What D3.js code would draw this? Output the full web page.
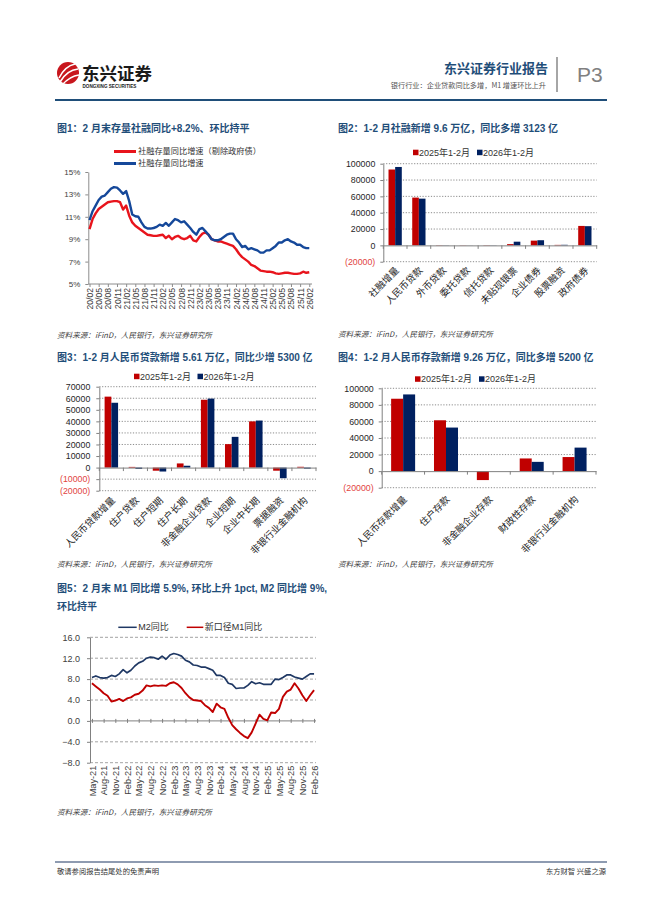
<!DOCTYPE html>
<html><head><meta charset="utf-8">
<script src="https://cdn.jsdelivr.net/npm/d3@7"></script>
<style>
body{margin:0;background:#fff;}
svg{display:block;}
</style></head><body>
<svg id="page" width="662" height="898"></svg>
<script>
// ================= DATA =================
// Chart 1: 社融存量同比 (2020/02 - 2026/02 monthly)
const c1XLabels = ["20/02","20/05","20/08","20/11","21/02","21/05","21/08","21/11","22/02","22/05","22/08","22/11","23/02","23/05","23/08","23/11","24/02","24/05","24/08","24/11","25/02","25/05","25/08","25/11","26/02"];
const c1YTicks = [5,7,9,11,13,15];
const c1Legend = ["社融存量同比增速（剔除政府债）","社融存量同比增速"];
const sfExGov = [9.9,10.8,11.3,11.7,11.9,12.1,12.3,12.35,12.4,12.4,12.3,11.65,12.0,11.1,10.5,10.2,10.0,9.8,9.6,9.4,9.35,9.3,9.3,9.35,9.4,9.1,9.3,9.0,9.2,9.3,9.1,9.0,9.1,9.3,8.9,8.8,9.2,9.5,9.6,9.4,9.0,8.9,8.8,8.8,8.7,8.6,8.5,8.4,8.1,7.7,7.4,7.2,7.0,6.7,6.6,6.4,6.2,6.15,6.1,6.1,6.05,5.95,5.9,5.95,6.0,6.0,5.95,5.9,5.9,5.95,6.1,6.0,6.05];
const sfTotal = [10.7,11.5,12.0,12.5,12.8,12.9,13.2,13.5,13.65,13.6,13.35,13.05,13.3,12.4,11.2,11.05,11.0,10.5,10.1,9.95,9.95,10.0,10.1,10.3,10.2,10.45,10.2,10.5,10.8,10.7,10.5,10.6,10.3,10.0,9.65,9.4,9.9,10.0,9.7,9.4,9.0,8.9,8.9,9.0,9.2,9.4,9.5,9.5,9.0,8.7,8.3,8.4,8.1,8.2,8.1,8.0,7.8,7.8,8.0,8.0,8.2,8.4,8.7,8.7,8.9,9.0,8.8,8.7,8.5,8.5,8.3,8.2,8.2];

// Bar legends
const barLegend = ["2025年1-2月","2026年1-2月"];

// Chart 2: 社融新增 (亿元)
const c2Cats = ["社融增量","人民币贷款","外币贷款","委托贷款","信托贷款","未贴现银票","企业债券","股票融资","政府债券"];
const c2Y2025 = [92877,58500,-300,200,300,1500,5800,600,23800];
const c2Y2026 = [96000,57200,200,-100,200,4500,6300,700,23500];
const c2Ticks = [-20000,0,20000,40000,60000,80000,100000];

// Chart 3: 人民币贷款新增 (亿元)
const c3Cats = ["人民币贷款增量","住户贷款","住户短期","住户长期","非金融企业贷款","企业短期","企业中长期","票据融资","非银行业金融机构"];
const c3Y2025 = [61400,600,-2700,3600,58700,20300,40000,-2700,700];
const c3Y2026 = [56100,-1100,-3400,1600,59700,26600,40700,-9200,-900];
const c3Ticks = [-20000,-10000,0,10000,20000,30000,40000,50000,60000,70000];

// Chart 4: 人民币存款新增 (亿元)
const c4Cats = ["人民币存款增量","住户存款","非金融企业存款","财政性存款","非银行业金融机构"];
const c4Y2025 = [87400,61400,-10800,15300,17000];
const c4Y2026 = [92600,52600,0,11200,28400];
const c4Ticks = [-20000,0,20000,40000,60000,80000,100000];

// Chart 5: M1 / M2 同比 (May-21 - Feb-26 monthly)
const c5XLabels = ["May-21","Aug-21","Nov-21","Feb-22","May-22","Aug-22","Nov-22","Feb-23","May-23","Aug-23","Nov-23","Feb-24","May-24","Aug-24","Nov-24","Feb-25","May-25","Aug-25","Nov-25","Feb-26"];
const c5YTicks = [-8,-4,0,4,8,12,16];
const c5Legend = ["M2同比","新口径M1同比"];
const m2 = [8.3,8.6,8.3,8.2,8.3,8.7,8.5,9.0,9.8,9.2,9.7,10.5,11.1,11.4,12.0,12.2,12.1,11.8,12.4,11.8,12.6,12.9,12.7,12.4,11.6,11.3,10.7,10.6,10.3,10.3,10.0,9.7,8.7,8.7,8.3,7.2,7.0,6.2,6.3,6.3,6.8,7.5,7.1,7.3,7.0,7.0,7.0,8.0,7.9,8.3,8.8,8.8,8.4,8.2,8.0,8.5,9.0,9.0];
const m1 = [7.2,6.6,6.0,5.3,4.8,3.7,3.9,4.2,3.8,4.3,4.5,5.0,5.2,5.8,6.8,6.6,6.8,6.7,6.8,6.7,7.2,7.4,7.0,6.3,5.3,4.5,4.0,3.9,3.8,3.0,2.5,1.7,3.3,2.6,2.3,0.6,-0.8,-1.6,-2.3,-2.9,-3.3,-2.2,-0.5,1.2,0.4,0.1,1.6,1.5,2.3,4.6,5.6,6.0,7.2,6.2,4.9,3.8,4.9,5.9];

// Texts
const titles = {
  c1: "图1：2 月末存量社融同比+8.2%、环比持平",
  c2: "图2：1-2 月社融新增 9.6 万亿，同比多增 3123 亿",
  c3: "图3：1-2 月人民币贷款新增 5.61 万亿，同比少增 5300 亿",
  c4: "图4：1-2 月人民币存款新增 9.26 万亿，同比多增 5200 亿",
  c5a: "图5：2 月末 M1 同比增 5.9%, 环比上升 1pct, M2 同比增 9%,",
  c5b: "环比持平"
};
const sourceText = "资料来源：iFinD，人民银行，东兴证券研究所";

// ================= STYLE =================
const FONT = '"Liberation Sans","Noto Sans CJK SC",Arial,sans-serif';
const CJK = '"Noto Sans CJK SC","Liberation Sans",sans-serif';
const TITLE_BLUE = "#1f4e79";
const RED = "#c00000", NAVY = "#002060", NEG = "#e2453f";

const svg = d3.select("#page");
svg.append("rect").attr("width",662).attr("height",898).attr("fill","#fff");

// ================= HEADER =================
const hdr = svg.append("g");
hdr.append("circle").attr("cx",68).attr("cy",73).attr("r",11).attr("fill","#c8161d");
["M59,78 Q65,66 75,64","M60,82 Q67,70 78,69","M62,85 Q70,76 79,75"].forEach(p=>{
  hdr.append("path").attr("d",p).attr("fill","none").attr("stroke","#fff").attr("stroke-width",1.6);
});
hdr.append("text").attr("x",82).attr("y",80).attr("font-family",CJK).attr("font-weight","bold")
  .attr("font-size",17.5).attr("fill","#1a1a1a").text("东兴证券");
hdr.append("text").attr("x",82.5).attr("y",88).attr("font-family",FONT).attr("font-weight","bold")
  .attr("font-size",4.6).attr("fill","#1a1a1a").text("DONGXING SECURITIES");
hdr.append("text").attr("x",548).attr("y",73).attr("text-anchor","end").attr("font-family",CJK)
  .attr("font-weight","bold").attr("font-size",13).attr("fill",TITLE_BLUE).text("东兴证券行业报告");
hdr.append("text").attr("x",546).attr("y",88).attr("text-anchor","end").attr("font-family",CJK)
  .attr("font-size",7.2).attr("fill","#555").text("银行行业：企业贷款同比多增，M1 增速环比上升");
hdr.append("line").attr("x1",557).attr("x2",557).attr("y1",57).attr("y2",92).attr("stroke","#888").attr("stroke-width",1.5);
hdr.append("text").attr("x",577).attr("y",82).attr("font-family",FONT).attr("font-size",21)
  .attr("fill","#808080").text("P3");
hdr.append("line").attr("x1",55).attr("x2",607).attr("y1",100).attr("y2",100).attr("stroke","#1f4e79").attr("stroke-width",2.2);

// ================= FOOTER =================
svg.append("line").attr("x1",55).attr("x2",607).attr("y1",862).attr("y2",862).attr("stroke","#1f3864").attr("stroke-width",1.2);
svg.append("text").attr("x",57).attr("y",874).attr("font-family",CJK).attr("font-size",7.3).attr("fill","#333").text("敬请参阅报告结尾处的免责声明");
svg.append("text").attr("x",606).attr("y",874).attr("text-anchor","end").attr("font-family",CJK).attr("font-size",7.3).attr("fill","#333").text("东方财智 兴盛之源");

// ================= HELPERS =================
function title(x,y,t){
  svg.append("text").attr("x",x).attr("y",y).attr("font-family",FONT).attr("font-weight","bold")
    .attr("font-size",10).attr("fill",TITLE_BLUE).text(t);
}
function source(x,y){
  svg.append("text").attr("x",x).attr("y",y).attr("font-family",CJK).attr("font-style","italic")
    .attr("font-size",7.6).attr("fill","#404040").text(sourceText);
}
const fmtParen = d => d < 0 ? `(${-d})` : `${d}`;

function barChart(o){
  const g = svg.append("g");
  const y = d3.scaleLinear().domain(o.yDomain).range(o.yRange);
  const x = d3.scaleBand().domain(o.cats).range(o.xRange);
  const inner = d3.scaleBand().domain([0,1]).range([x.bandwidth()*0.22, x.bandwidth()*0.78]);
  // gridlines
  g.append("g").selectAll("line").data(o.ticks.filter(t=>t!==0)).join("line")
    .attr("x1",o.xRange[0]).attr("x2",o.xRange[1])
    .attr("y1",d=>y(d)).attr("y2",d=>y(d))
    .attr("stroke","#6f6f6f").attr("stroke-width",0.8).attr("stroke-dasharray","1.2,1.6");
  // bars
  [o.a,o.b].forEach((vals,si)=>{
    g.append("g").selectAll("rect").data(o.cats).join("rect")
      .attr("x",c=>x(c)+inner(si))
      .attr("width",inner.bandwidth())
      .attr("y",(c,i)=>y(Math.max(0,vals[i])))
      .attr("height",(c,i)=>Math.abs(y(vals[i])-y(0)))
      .attr("fill",si===0?RED:NAVY);
  });
  // y axis
  const yg = g.append("g").attr("transform",`translate(${o.xRange[0]},0)`)
    .call(d3.axisLeft(y).tickValues(o.ticks).tickSize(3).tickSizeOuter(0).tickPadding(o.pad).tickFormat(fmtParen));
  yg.attr("font-family",FONT);
  yg.select(".domain").attr("stroke","#808080");
  yg.selectAll(".tick line").attr("stroke","#808080");
  yg.selectAll(".tick text").attr("fill",d=>d<0?NEG:"#262626").attr("font-size",8.8);
  // x axis at zero with ticks at band boundaries
  const xg = g.append("g").attr("transform",`translate(0,${y(0)})`)
    .call(d3.axisBottom(x).tickSize(0).tickFormat(""));
  xg.select(".domain").attr("stroke","#808080");
  const bounds = o.cats.map(c=>x(c)).concat([o.xRange[1]]);
  xg.selectAll("line.bt").data(bounds).join("line").attr("class","bt")
    .attr("x1",d=>d).attr("x2",d=>d).attr("y1",0).attr("y2",3.5).attr("stroke","#808080");
  // category labels
  g.append("g").selectAll("text").data(o.cats).join("text")
    .attr("transform",c=>`translate(${x(c)+x.bandwidth()/2+o.lx},${o.yRange[0]+o.ly}) rotate(-45)`)
    .attr("text-anchor","end").attr("dy","0.35em")
    .attr("font-family",CJK).attr("font-size",9.5).attr("fill","#1a1a1a").text(c=>c);
  // legend
  barLegend.forEach((t,i)=>{
    g.append("rect").attr("x",o.leg[i]).attr("y",o.legY-3).attr("width",5.5).attr("height",5.5).attr("fill",i===0?RED:NAVY);
    g.append("text").attr("x",o.leg[i]+6).attr("y",o.legY).attr("dy","0.35em")
      .attr("font-family",FONT).attr("font-size",9).attr("fill","#333").text(t);
  });
}

// ================= CHART 1 =================
title(57,132,titles.c1);
{
  const g = svg.append("g");
  const x = d3.scalePoint().domain(d3.range(sfTotal.length)).range([88,310.8]).padding(0.5);
  const y = d3.scaleLinear().domain([5,15]).range([284,172]);
  const yg = g.append("g").attr("transform","translate(88.3,0)")
    .call(d3.axisLeft(y).tickValues(c1YTicks).tickSize(3).tickSizeOuter(0).tickPadding(5).tickFormat(d=>d+"%"));
  yg.attr("font-family",FONT);
  yg.select(".domain").attr("stroke","#8c8c8c");
  yg.selectAll(".tick line").attr("stroke","#8c8c8c");
  yg.selectAll(".tick text").attr("fill","#404040").attr("font-size",8);
  const tickIdx = c1XLabels.map((l,i)=>i*3);
  const xg = g.append("g").attr("transform","translate(0,284)")
    .call(d3.axisBottom(x).tickValues(tickIdx).tickSize(3).tickSizeOuter(0).tickFormat(i=>c1XLabels[i/3]));
  xg.attr("font-family",FONT);
  xg.select(".domain").attr("stroke","#8c8c8c").attr("d","M88.3,0H312");
  xg.selectAll(".tick line").attr("stroke","#8c8c8c");
  xg.selectAll(".tick text").attr("fill","#404040").attr("font-size",8.6)
    .attr("transform","rotate(-90)").attr("x",-4).attr("y",0).attr("dy","0.35em").attr("text-anchor","end");
  const line = d3.line().x((d,i)=>x(i)).y(d=>y(d));
  g.append("path").datum(sfExGov).attr("d",line).attr("fill","none").attr("stroke","#e8141c").attr("stroke-width",2.4).attr("stroke-linejoin","round");
  g.append("path").datum(sfTotal).attr("d",line).attr("fill","none").attr("stroke","#15489a").attr("stroke-width",2.4).attr("stroke-linejoin","round");
  // legend
  [["#e8141c",151.5],["#15489a",163.5]].forEach(([c,yy],i)=>{
    g.append("line").attr("x1",114).attr("x2",136).attr("y1",yy).attr("y2",yy).attr("stroke",c).attr("stroke-width",3);
    g.append("text").attr("x",138).attr("y",yy).attr("dy","0.35em").attr("font-family",CJK).attr("font-size",8.2).attr("fill","#333").text(c1Legend[i]);
  });
}
source(57,338);

// ================= CHART 2 =================
title(338,132,titles.c2);
barChart({cats:c2Cats,a:c2Y2025,b:c2Y2026,ticks:c2Ticks,yDomain:[-20000,100000],yRange:[261.7,163.7],
  xRange:[383.3,596.7],pad:5,lx:2,ly:7,leg:[413,477],legY:152.7});
source(338,337);

// ================= CHART 3 =================
title(57,361,titles.c3);
barChart({cats:c3Cats,a:c3Y2025,b:c3Y2026,ticks:c3Ticks,yDomain:[-20000,70000],yRange:[490.7,386.7],
  xRange:[99.3,316],pad:6,lx:2,ly:8,leg:[134,197.5],legY:376.7});
source(57,567);

// ================= CHART 4 =================
title(338,361,titles.c4);
barChart({cats:c4Cats,a:c4Y2025,b:c4Y2026,ticks:c4Ticks,yDomain:[-20000,100000],yRange:[487.7,388.3],
  xRange:[381.7,596],pad:5,lx:2,ly:10,leg:[415,479],legY:379.3});
source(338,567);

// ================= CHART 5 =================
title(57,592,titles.c5a);
title(57,610,titles.c5b);
{
  const g = svg.append("g");
  const x = d3.scalePoint().domain(d3.range(m2.length)).range([90,316]).padding(0.5);
  const y = d3.scaleLinear().domain([-8,16]).range([762.7,637.3]);
  // gridlines
  g.append("g").selectAll("line").data(c5YTicks.filter(t=>t!==0)).join("line")
    .attr("x1",90).attr("x2",316).attr("y1",d=>y(d)).attr("y2",d=>y(d))
    .attr("stroke","#8c8c8c").attr("stroke-width",0.8).attr("stroke-dasharray","3,2");
  const yg = g.append("g").attr("transform","translate(90,0)")
    .call(d3.axisLeft(y).tickValues(c5YTicks).tickSize(3).tickSizeOuter(0).tickPadding(7).tickFormat(d3.format(".1f")));
  yg.attr("font-family",FONT);
  yg.select(".domain").attr("stroke","#808080");
  yg.selectAll(".tick line").attr("stroke","#808080");
  yg.selectAll(".tick text").attr("fill","#404040").attr("font-size",9);
  // zero axis with ticks
  const zg = g.append("g").attr("transform",`translate(0,${y(0)})`)
    .call(d3.axisBottom(x).tickValues(d3.range(0,m2.length,3)).tickSize(3).tickSizeOuter(0).tickFormat(""));
  zg.select(".domain").attr("stroke","#808080").attr("d","M90,0H316");
  zg.selectAll(".tick line").attr("stroke","#808080").attr("y1",-2).attr("y2",2);
  // bottom labels
  const bg = g.append("g").attr("transform",`translate(0,${y(-8)})`)
    .call(d3.axisBottom(x).tickValues(d3.range(0,m2.length,3)).tickSize(0).tickSizeOuter(0).tickFormat(i=>c5XLabels[i/3]));
  bg.attr("font-family",FONT);
  bg.select(".domain").remove();
  bg.selectAll(".tick text").attr("fill","#404040").attr("font-size",9.2)
    .attr("transform","rotate(-90)").attr("x",-3).attr("y",0).attr("dy","0.35em").attr("text-anchor","end");
  const line = d3.line().x((d,i)=>x(i)).y(d=>y(d));
  g.append("path").datum(m2).attr("d",line).attr("fill","none").attr("stroke","#1f3864").attr("stroke-width",1.7).attr("stroke-linejoin","round");
  g.append("path").datum(m1).attr("d",line).attr("fill","none").attr("stroke","#c00000").attr("stroke-width",1.9).attr("stroke-linejoin","round");
  // legend
  [["#1f3864",118.3,136.7],["#c00000",186.7,203.3]].forEach(([c,a,b],i)=>{
    g.append("line").attr("x1",a).attr("x2",b).attr("y1",627.3).attr("y2",627.3).attr("stroke",c).attr("stroke-width",1.5);
    g.append("text").attr("x",b+1.5).attr("y",627.3).attr("dy","0.35em").attr("font-family",FONT).attr("font-size",9).attr("fill","#333").text(c5Legend[i]);
  });
}
source(57,815);
</script>
</body></html>
